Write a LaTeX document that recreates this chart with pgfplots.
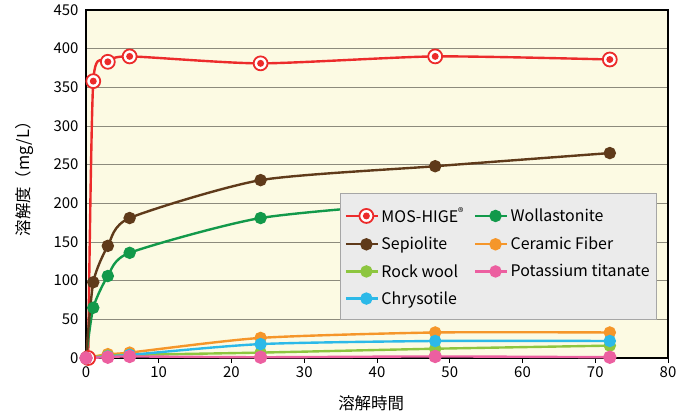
\documentclass[border=0pt]{standalone}
\usepackage{pgfplots}
\pgfplotsset{compat=1.18}
\usepackage{fontspec}
\setmainfont{Noto Sans CJK JP}
\definecolor{cred}{HTML}{EC2B2B}
\definecolor{cbrown}{HTML}{5F3A1A}
\definecolor{cgreen}{HTML}{12994A}
\definecolor{corange}{HTML}{F5962A}
\definecolor{clime}{HTML}{8DC63F}
\definecolor{cpink}{HTML}{EC5FA0}
\definecolor{cblue}{HTML}{2CB9E8}
\definecolor{bgc}{HTML}{FCFAE3}
\definecolor{gridc}{HTML}{8C8A7C}
\definecolor{legc}{HTML}{EBEBEB}
\pgfdeclareplotmark{target}{%
  \pgfsetfillcolor{white}%
  \pgfpathcircle{\pgfpointorigin}{\pgfplotmarksize}\pgfusepathqfillstroke
  \pgfsetfillcolor{cred}%
  \pgfpathcircle{\pgfpointorigin}{0.5\pgfplotmarksize}\pgfusepathqfill
}
\pgfplotsset{
  base/.style={scale only axis, width=582bp, height=348bp,
    xmin=0, xmax=80, ymin=0, ymax=450},
}
\begin{document}
\begin{tikzpicture}
\begin{axis}[
  base, name=main,
  xtick={0,10,...,80}, ytick={0,50,...,450},
  axis background/.style={fill=bgc},
  ymajorgrids, grid style={gridc, line width=1pt},
  axis line style={black, line width=1.6pt},
  tick style={black, line width=1pt},
  xtick pos=bottom, ytick style={draw=none},
  tick align=outside, major tick length=5pt,
  /pgf/number format/assume math mode=true,
  ticklabel style={font=\fontsize{15}{15}\selectfont},
  yticklabel style={xshift=1pt},
  xlabel={溶解時間}, ylabel={溶解度（mg/L）},
  every axis x label/.style={at={(axis description cs:0.49,0)}, anchor=center, yshift=-45bp, font=\fontsize{16.5}{16.5}\selectfont},
  every axis y label/.style={at={(axis description cs:-0.105,0.526)}, anchor=center, rotate=90, font=\fontsize{16.5}{16.5}\selectfont},
  every axis plot/.append style={line width=2.4pt, smooth, tension=0.4, mark size=5pt},
]
\addplot[cred, mark=target, mark size=7pt, mark options={line width=1.8pt}] coordinates {(0.3,0) (1,358) (3,383) (6,390) (24,381) (48,390) (72,386)};
\addplot[cgreen, mark=*] coordinates {(0,0) (1,65) (3,106) (6,136) (24,181) (48,201) (72,203)};
\addplot[cbrown, mark=*] coordinates {(0,0) (1,98) (3,145) (6,181) (24,230) (48,248) (72,265)};
\addplot[corange, mark=*] coordinates {(0,0) (3,5) (6,7) (24,26) (48,33) (72,33)};
\addplot[clime, mark=*] coordinates {(0,0) (3,3) (6,4) (24,7) (48,12) (72,16)};
\addplot[cblue, mark=*] coordinates {(0,0) (3,2) (6,4) (24,18) (48,22) (72,22)};
\addplot[cpink, mark=*, mark size=5.5pt] coordinates {(0,0) (3,1) (6,2) (24,1) (48,2) (72,1)};
\coordinate (legtl) at (axis cs:34.9,213);
\end{axis}
\fill[legc] ([shift={(1bp,-1bp)}]legtl) rectangle ++(315bp,-125bp);
\begin{axis}[
  base, hide axis,
  legend columns=2,
  legend style={at={(axis cs:34.9,213)}, anchor=north west, fill=legc, draw=gray!70, line width=0.8pt,
    font=\fontsize{16}{18}\selectfont, row sep=9pt, inner xsep=4.5pt, inner ysep=12pt,
    /tikz/every even column/.append style={column sep=8pt}},
  legend cell align=left,
  legend image code/.code={\path (0cm,0cm) -- (0.3cm,0cm);\draw[mark repeat=2,mark phase=2,#1] plot coordinates {(0.3cm,0cm) (0.72cm,0cm) (1.14cm,0cm)};},
]
\addlegendimage{cred, line width=2.4pt, mark=target, mark size=7pt, mark options={line width=1.8pt}}
\addlegendentry{MOS-HIGE\textsuperscript{\textregistered}}
\addlegendimage{cgreen, line width=2.4pt, mark=*, mark size=5pt}
\addlegendentry{Wollastonite}
\addlegendimage{cbrown, line width=2.4pt, mark=*, mark size=5pt}
\addlegendentry{Sepiolite}
\addlegendimage{corange, line width=2.4pt, mark=*, mark size=5pt}
\addlegendentry{Ceramic Fiber}
\addlegendimage{clime, line width=2.4pt, mark=*, mark size=5pt}
\addlegendentry{Rock wool}
\addlegendimage{cpink, line width=2.4pt, mark=*, mark size=5pt}
\addlegendentry{Potassium titanate}
\addlegendimage{cblue, line width=2.4pt, mark=*, mark size=5pt}
\addlegendentry{Chrysotile}
\end{axis}
\path (main.south west) ++(-86bp,-60bp) (main.north east) ++(20bp,10bp);
\end{tikzpicture}
\end{document}
